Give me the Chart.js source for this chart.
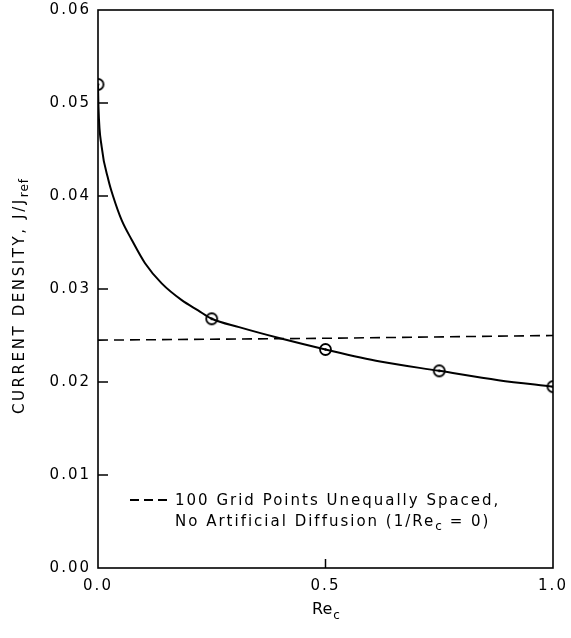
<!DOCTYPE html>
<html>
<head>
<meta charset="utf-8">
<script src="https://cdn.jsdelivr.net/npm/chart.js@4.4.1/dist/chart.umd.min.js"></script>
<style>
  html, body { margin: 0; padding: 0; background: #ffffff; }
  #wrap { width: 571px; height: 638px; }
</style>
</head>
<body>
<div id="wrap"><canvas id="c" width="571" height="638"></canvas></div>
<script>
// ---- Data ----
const markerRe = [0.0, 0.25, 0.5, 0.75, 1.0];
const markerDensity = [0.052, 0.0268, 0.0235, 0.0212, 0.0195];

// Solid curve
const curveRe = [0.0, 0.001, 0.008, 0.023, 0.033, 0.052, 0.074, 0.103, 0.14, 0.184, 0.22, 0.25, 0.31, 0.4, 0.5, 0.62, 0.75, 0.88, 1.0];
const curveDensity = [0.052, 0.0496, 0.0453, 0.0417, 0.0400, 0.0374, 0.0353, 0.0328, 0.0306, 0.0288, 0.0277, 0.0268, 0.0259, 0.0247, 0.0235, 0.0222, 0.0212, 0.0202, 0.0195];

// Dashed line: 100 grid points unequally spaced, no artificial diffusion
const dashedRe = [0.0, 0.5, 1.0];
const dashedDensity = [0.0245, 0.0247, 0.025];

const yTickValues = [0.00, 0.01, 0.02, 0.03, 0.04, 0.05, 0.06];
const xTickValues = [0.0, 0.5, 1.0];
const innerYTicks = [0.01, 0.02, 0.03, 0.04, 0.05];
const innerXTicks = [0.5];

const legendLine1 = "100 Grid Points Unequally Spaced,";
const legendLine2a = "No Artificial Diffusion (1/Re";
const legendLine2sub = "c";
const legendLine2b = " = 0)";
const yTitleMain = "CURRENT DENSITY, J/J";
const yTitleSub = "ref";
const xTitleMain = "Re";
const xTitleSub = "c";

const FONT = '"DejaVu Sans", "Liberation Sans", sans-serif';

function toPoints(xs, ys) { return xs.map((x, i) => ({ x: x, y: ys[i] })); }

// circle marker with a dot in the middle
const marker = document.createElement('canvas');
marker.width = 15; marker.height = 15;
(function () {
  const m = marker.getContext('2d');
  m.fillStyle = '#fff';
  m.strokeStyle = '#000';
  m.lineWidth = 1.8;
  m.beginPath(); m.arc(7.5, 7.5, 5.5, 0, Math.PI * 2); m.fill(); m.stroke();
  m.fillStyle = '#000';
  m.beginPath(); m.arc(7.5, 7.5, 1.2, 0, Math.PI * 2); m.fill();
})();

function spacedText(ctx, text, x, y, spacing) {
  ctx.letterSpacing = spacing + 'px';
  ctx.fillText(text, x, y);
  const w = ctx.measureText(text).width;
  ctx.letterSpacing = '0px';
  return w;
}

const decorPlugin = {
  id: 'decor',
  beforeDraw(chart) {
    chart.ctx.letterSpacing = '2px';
  },
  afterDraw(chart) {
    const ctx = chart.ctx;
    ctx.letterSpacing = '0px';
    const a = chart.chartArea;
    const xs = chart.scales.x, ys = chart.scales.y;
    ctx.save();
    // frame
    ctx.strokeStyle = '#000';
    ctx.lineWidth = 1.6;
    ctx.strokeRect(a.left, a.top, a.right - a.left, a.bottom - a.top);
    // inward ticks
    ctx.lineWidth = 1.5;
    innerYTicks.forEach(v => {
      const py = ys.getPixelForValue(v);
      ctx.beginPath(); ctx.moveTo(a.left, py); ctx.lineTo(a.left + 10, py); ctx.stroke();
    });
    innerXTicks.forEach(v => {
      const px = xs.getPixelForValue(v);
      ctx.beginPath(); ctx.moveTo(px, a.bottom); ctx.lineTo(px, a.bottom - 9); ctx.stroke();
    });

    ctx.fillStyle = '#000';
    ctx.textBaseline = 'alphabetic';
    ctx.textAlign = 'left';

    // legend
    const ly1 = ys.getPixelForValue(0.0073);
    ctx.setLineDash([9, 5]);
    ctx.lineWidth = 2;
    ctx.beginPath(); ctx.moveTo(a.left + 32, ly1); ctx.lineTo(a.left + 69, ly1); ctx.stroke();
    ctx.setLineDash([]);
    ctx.font = '15px ' + FONT;
    const tx = a.left + 77;
    spacedText(ctx, legendLine1, tx, ly1 + 5, 2);
    const ly2 = ly1 + 26;
    let cx = tx;
    cx += spacedText(ctx, legendLine2a, cx, ly2, 2);
    ctx.font = '12px ' + FONT;
    cx += spacedText(ctx, legendLine2sub, cx, ly2 + 4, 1);
    ctx.font = '15px ' + FONT;
    spacedText(ctx, legendLine2b, cx, ly2, 2);

    // x title
    ctx.font = '16px ' + FONT;
    const xc = xs.getPixelForValue(0.5);
    const w1 = ctx.measureText(xTitleMain).width;
    ctx.font = '12px ' + FONT;
    const w2 = ctx.measureText(xTitleSub).width;
    let sx = xc - (w1 + w2) / 2;
    ctx.font = '16px ' + FONT;
    ctx.fillText(xTitleMain, sx, 614);
    ctx.font = '12px ' + FONT;
    ctx.fillText(xTitleSub, sx + w1 + 1, 619);

    // y title (rotated)
    ctx.translate(24, 296);
    ctx.rotate(-Math.PI / 2);
    ctx.font = '15px ' + FONT;
    ctx.letterSpacing = '2.6px';
    const m1 = ctx.measureText(yTitleMain).width;
    ctx.font = '12px ' + FONT;
    ctx.letterSpacing = '1px';
    const m2 = ctx.measureText(yTitleSub).width;
    let ry = -(m1 + m2) / 2;
    ctx.font = '15px ' + FONT;
    ry += spacedText(ctx, yTitleMain, ry, 0, 2.6);
    ctx.font = '12px ' + FONT;
    spacedText(ctx, yTitleSub, ry, 4, 1);
    ctx.restore();
  }
};

new Chart(document.getElementById('c'), {
  type: 'scatter',
  data: {
    datasets: [
      {
        label: 'curve',
        data: toPoints(curveRe, curveDensity),
        showLine: true,
        borderColor: '#000',
        borderWidth: 2,
        pointRadius: 0,
        cubicInterpolationMode: 'monotone',
        fill: false
      },
      {
        label: 'dashed',
        data: toPoints(dashedRe, dashedDensity),
        showLine: true,
        borderColor: '#000',
        borderWidth: 1.6,
        borderDash: [10, 6],
        pointRadius: 0,
        fill: false
      },
      {
        label: 'points',
        data: toPoints(markerRe, markerDensity),
        showLine: false,
        pointStyle: marker,
        pointRadius: 7,
        pointHoverRadius: 7
      }
    ]
  },
  options: {
    responsive: false,
    animation: false,
    devicePixelRatio: 1,
    events: [],
    layout: { padding: { top: 10, right: 18, bottom: 0, left: 0 } },
    plugins: { legend: { display: false }, tooltip: { enabled: false } },
    scales: {
      x: {
        type: 'linear',
        min: 0, max: 1,
        grid: { display: false, drawTicks: false },
        border: { display: false },
        afterFit(s) { s.height = 70; s.paddingLeft = 0; s.paddingRight = 0; },
        afterBuildTicks(s) { s.ticks = xTickValues.map(v => ({ value: v })); },
        ticks: {
          padding: 9,
          color: '#000',
          font: { family: FONT, size: 15 },
          callback: v => Number(v).toFixed(1)
        }
      },
      y: {
        type: 'linear',
        min: 0, max: 0.06,
        grid: { display: false, drawTicks: false },
        border: { display: false },
        afterFit(s) { s.width = 98; s.paddingTop = 0; s.paddingBottom = 0; },
        afterBuildTicks(s) { s.ticks = yTickValues.map(v => ({ value: v })); },
        ticks: {
          padding: 7,
          color: '#000',
          font: { family: FONT, size: 15 },
          callback: v => Number(v).toFixed(2)
        }
      }
    }
  },
  plugins: [decorPlugin]
});
</script>
</body>
</html>
